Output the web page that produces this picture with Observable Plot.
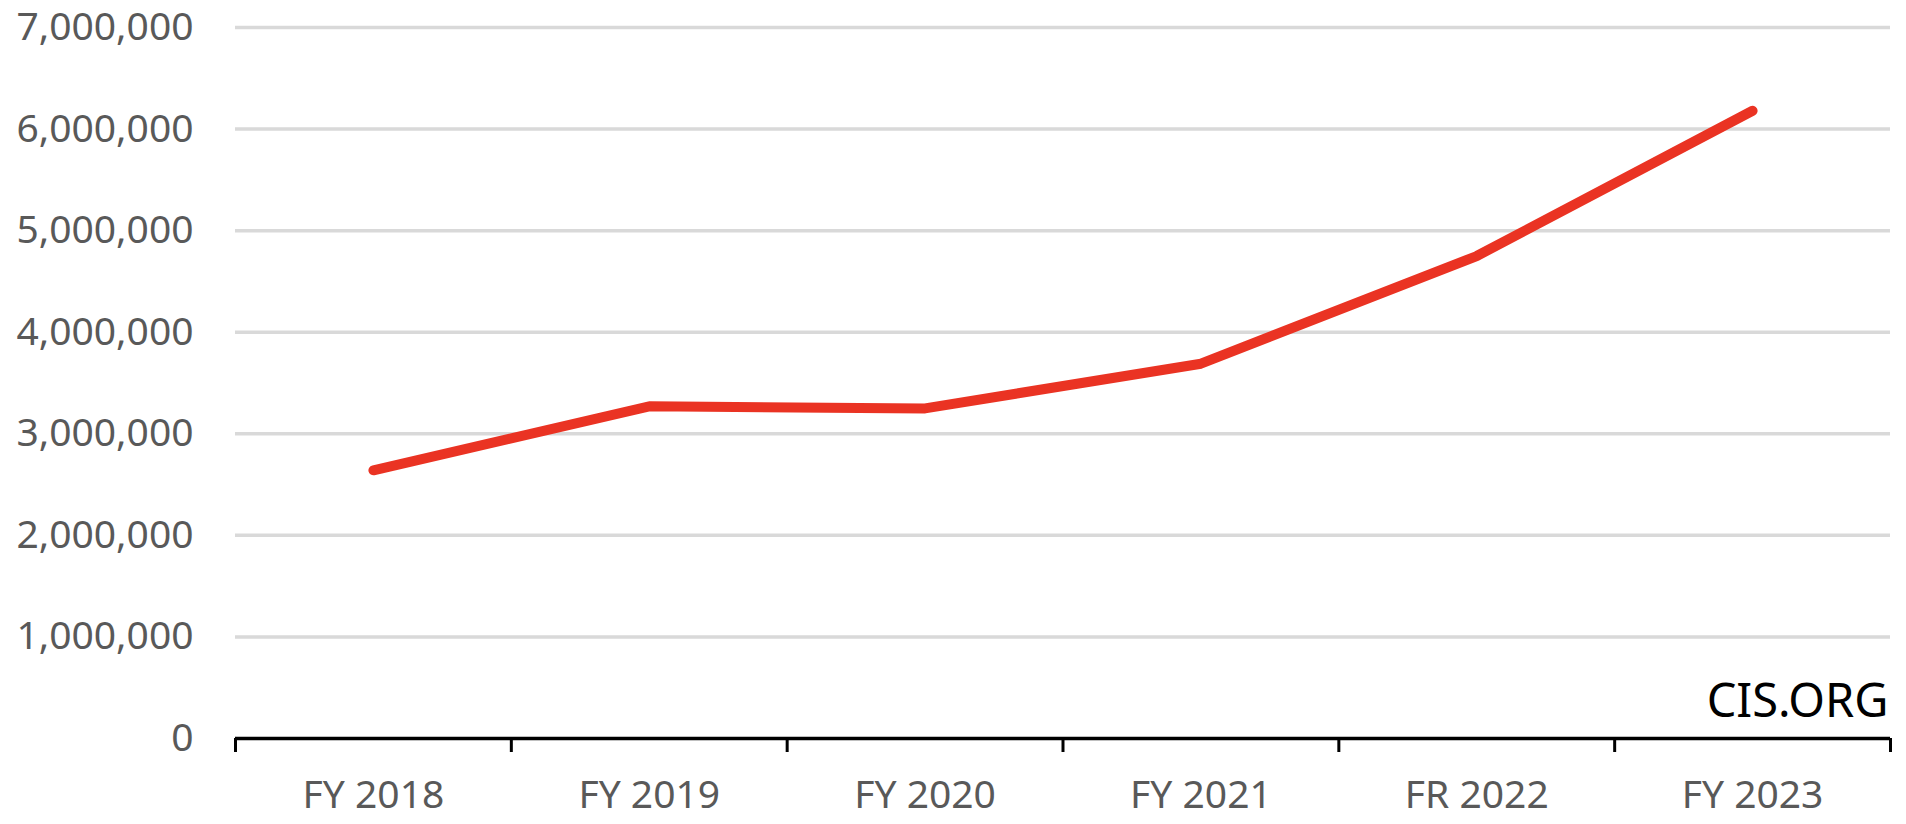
<!DOCTYPE html>
<html>
<head>
<meta charset="utf-8">
<script src="https://cdn.jsdelivr.net/npm/d3@7"></script>
<script src="https://cdn.jsdelivr.net/npm/@observablehq/plot@0.6"></script>
<style>
  html, body { margin: 0; padding: 0; background: #fff; }
</style>
</head>
<body>
<div id="chart"></div>
<script>
const categories = ["FY 2018", "FY 2019", "FY 2020", "FY 2021", "FR 2022", "FY 2023"];
const values = [2640000, 3270000, 3250000, 3690000, 4750000, 6180000];
const yTicks = [0, 1000000, 2000000, 3000000, 4000000, 5000000, 6000000, 7000000];
const sourceLabel = "CIS.ORG";

const data = categories.map((c, i) => ({pos: i + 0.5, category: c, value: values[i]}));
const boundaries = d3.range(categories.length + 1);
const centers = categories.map((c, i) => i + 0.5);

const chart = Plot.plot({
  width: 1906,
  height: 824,
  marginLeft: 235,
  marginRight: 16,
  marginTop: 27,
  marginBottom: 86,
  style: {fontFamily: "'Noto Sans', 'Open Sans', sans-serif", fontSize: "39px", background: "#fff", overflow: "visible"},
  x: {type: "linear", domain: [0, categories.length]},
  y: {domain: [0, 7000000]},
  marks: [
    Plot.gridY(yTicks.filter(d => d > 0), {stroke: "#d9d9d9", strokeWidth: 3.5, strokeOpacity: 1}),
    Plot.axisY({ticks: yTicks, tickSize: 0, tickPadding: 42, tickFormat: d3.format(","), fill: "#595959", fontSize: 39, label: null}),
    Plot.axisX({ticks: boundaries, tickSize: 14, tickFormat: () => "", stroke: "black", strokeWidth: 3, label: null}),
    Plot.axisX({ticks: centers, tickSize: 0, tickPadding: 42, tickFormat: d => categories[Math.round(d - 0.5)], fill: "#595959", fontSize: 39, label: null}),
    Plot.ruleY([0], {stroke: "black", strokeWidth: 3.5}),
    Plot.line(data, {x: "pos", y: "value", stroke: "#EA3323", strokeWidth: 10, strokeLinecap: "round", strokeLinejoin: "miter"}),
    Plot.text([sourceLabel], {frameAnchor: "bottom-right", lineAnchor: "middle", textAnchor: "end", dy: -37, dx: -2, fontSize: 47, fill: "black"})
  ]
});
document.getElementById("chart").appendChild(chart);
</script>
</body>
</html>
